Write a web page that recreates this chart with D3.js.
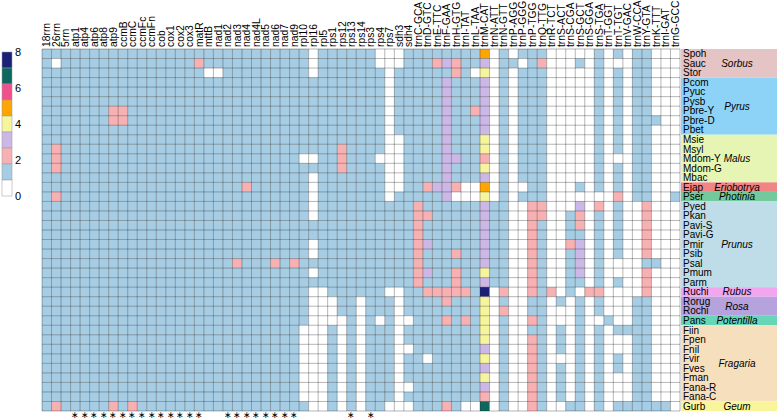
<!DOCTYPE html>
<html><head><meta charset="utf-8">
<script src="https://cdn.jsdelivr.net/npm/d3@7"></script>
<style>body{margin:0;background:#fff}svg{display:block}text{font-family:Arial,"Liberation Sans",sans-serif;fill:#000}</style>
</head><body><svg id="c" width="777" height="420"></svg>
<script>
const genes = ["18rrn","26rrn","5rrn","atp1","atp4","atp6","atp8","atp9","ccmB","ccmC","ccmFc","ccmFn","cob","cox1","cox2","cox3","matR","mttB","nad1","nad2","nad3","nad4","nad4L","nad5","nad6","nad7","nad9","rpl10","rpl16","rpl5","rps1","rps12","rps13","rps14","rps3","rps4","rps7","sdh3","sdh4","trnC-GCA","trnD-GTC","trnE-TTC","trnF-GAA","trnH-GTG","trnI-TAT","trnL-TAA","trnM-CAT","trnN-ATT","trnN-GTT","trnP-AGG","trnP-GGG","trnP-TGG","trnQ-TTG","trnR-TCT","trnS-ACT","trnS-CGA","trnS-GCT","trnS-GGA","trnS-TGA","trnT-GGT","trnT-TGT","trnV-GAC","trnW-CCA","trnY-GTA","trnK-TTT","trnI-GAT","trnG-GCC"];
const species = ["Spoh","Sauc","Stor","Pcom","Pyuc","Pysb","Pbre-Y","Pbre-D","Pbet","Msie","Msyl","Mdom-Y","Mdom-G","Mbac","Ejap","Pser","Pyed","Pkan","Pavi-S","Pavi-G","Pmir","Psib","Psal","Pmum","Parm","Ruchi","Rorug","Rochi","Pans","Fiin","Fpen","Fnil","Fvir","Fves","Fman","Fana-R","Fana-C","Gurb"];
const genera = ["Sorbus","Pyrus","Malus","Eriobotrya","Photinia","Prunus","Rubus","Rosa","Potentilla","Fragaria","Geum"];
const generaSizes = [3,6,5,1,1,9,1,2,1,8,1];
// copy numbers, one string per species, one digit per gene (in gene order)
const copies = [
"1111111111 1111111111 1111111101 1111100011 1111115010 1110000010 1011000",
"1011111111 1111112111 1111111101 1111100011 1232113011 0120001010 0011000",
"1111111111 1111111001 1111111101 1111110111 1112104010 1110000010 1011000",
"1111111111 1111111111 1111111111 1111110111 1131113010 1110000010 1011000",
"1111111111 1111111111 1111111111 1111110111 1131113010 1110000010 1011000",
"1111111111 1111111111 1111111111 1111110111 1131113010 1110000010 1011000",
"1111111221 1111111111 1111111111 1111110111 1131123010 1110000010 1011000",
"1111111221 1111111111 1111111111 1111110111 1131113010 1110000010 1011100",
"1111111111 1111111111 1111111111 1111110111 1131113010 1110000010 1011000",
"1111111111 1111111111 1111111111 1111110011 1131114010 1110000010 1011000",
"1211111111 1111111111 1111111111 1211110011 1131114010 1110000010 1011000",
"1211111111 1111111111 1111111001 1211100011 1133112010 1110000010 0011000",
"1211111111 1111111111 1111111111 1211110011 1131114010 1110000010 1011000",
"1111111111 1111111111 1111111101 1111110011 1131113010 1110000010 1011000",
"1111111111 1111111111 1211111101 1111110011 2332005010 0110001010 1011000",
"1211111111 1111111111 1111111101 1111110111 1130004010 1110000000 2011001",
"1111111111 1111111111 1111111101 1111111112 1111113110 0220003020 1002000",
"1111111111 1111111111 1111111101 1111111112 2111113110 0220012010 1002000",
"1111111111 1111111111 1111111111 1111111112 1111113110 0210012010 1002000",
"1111111111 1111111111 1111111111 1111111112 1111113110 0210011010 1002000",
"1111111111 1111111111 1111111101 1111111112 3111113110 0210023010 1002000",
"1111111111 1111111111 1111111101 1111111112 1112113110 0210013010 1002000",
"1111111111 1111111111 2111212111 1111111112 1111113110 0210013010 0001100",
"1111111111 1111111111 1111111101 1111111112 3112114110 0210013010 0002000",
"1111111111 1111111111 1111111111 1111111112 1112113110 0210011010 1002000",
"1111111111 1111111111 1111111100 1111110011 2222218020 0212010220 0002000",
"1111111111 1111111111 1111111100 0110111011 1121114010 0110101010 0011000",
"1111111111 1111111111 1111111100 0110111011 1111114020 0110001010 0011000",
"1111111111 1111111111 1111111100 0010101001 1121214010 0210001001 0011000",
"1111111111 1111111111 1111111000 1010111011 1111114010 0110101010 1111000",
"1111111111 1111111111 1111111000 1010111011 1111114010 0210101010 0011000",
"1111111111 1111111111 1111111000 1010111001 1111113010 0210101010 0011000",
"1111111111 1111111111 1111111000 1010111011 0111114010 0210001010 1011000",
"1111111111 1111111111 1111111000 1010111011 1111113010 0210101010 1011000",
"1111111111 1111111111 1111111000 1010111011 1111114010 0210101010 0011000",
"1111111111 1111111111 1111111000 1010111001 1111113010 0210101010 0011000",
"1111111111 1111111111 1111111000 1010111011 1111112010 0210101010 0011000",
"1211111212 1111111111 1111111100 1010110001 1121007010 0210011010 1111110"
];
const legendValues = [8,7,6,5,4,3,2,1,0];
const legendTicks = [0,2,4,6,8];
const starredGenes = ["atp1","atp4","atp6","atp8","atp9","ccmB","ccmC","ccmFc","ccmFn","cob","cox1","cox2","cox3","matR","nad2","nad3","nad4","nad4L","nad5","nad6","nad7","nad9","rps13","rps3"];

// styles
const palette = ["#ffffff","#a6cde4","#f8b1b3","#cbb8e6","#f6f59e","#ffa500","#f0508b","#0c675f","#1c2178"];
const genusFill = {Sorbus:"#e5c4c5",Pyrus:"#8dd3f7",Malus:"#e6f5b4",Eriobotrya:"#f08585",Photinia:"#72c99b",Prunus:"#bedde8",Rubus:"#f3a6f0",Rosa:"#b6a2dc",Potentilla:"#66d5b8",Fragaria:"#f6dfbd",Geum:"#f8f59a"};

const matrix = copies.map(s => s.replace(/ /g,"").split("").map(Number));
const cells = [];
matrix.forEach((row,i) => row.forEach((v,j) => cells.push({sp:species[i], gene:genes[j], v})));

const svg = d3.select("#c");
const x = d3.scaleBand().domain(genes).range([42,680]);
const y = d3.scaleBand().domain(species).range([49,411]);
const color = d3.scaleOrdinal().domain(d3.range(9)).range(palette);

svg.append("g").selectAll("rect").data(cells).join("rect")
  .attr("x", d => x(d.gene)).attr("y", d => y(d.sp))
  .attr("width", x.bandwidth()).attr("height", y.bandwidth())
  .attr("fill", d => color(d.v));

const grid = svg.append("g").attr("stroke","rgba(0,0,0,0.42)").attr("stroke-width",0.7);
const xb = genes.map(g => x(g)).concat([x.range()[1]]);
const yb = species.map(s => y(s)).concat([y.range()[1]]);
grid.selectAll("line.v").data(xb).join("line").attr("class","v")
  .attr("x1",d=>d).attr("x2",d=>d).attr("y1",y.range()[0]).attr("y2",y.range()[1]);
grid.selectAll("line.h").data(yb).join("line").attr("class","h")
  .attr("y1",d=>d).attr("y2",d=>d).attr("x1",x.range()[0]).attr("x2",x.range()[1]);

// column labels
svg.append("g").selectAll("text").data(genes).join("text")
  .attr("transform", d => `translate(${x(d)+x.bandwidth()/2+3.6},47) rotate(-90)`)
  .attr("font-size","10.3px").text(d => d);

// asterisks
svg.append("g").selectAll("text").data(starredGenes).join("text")
  .attr("x", d => x(d)+x.bandwidth()/2).attr("y", 417.8)
  .attr("text-anchor","middle").attr("font-size","9px").text("\u2217");

// genus blocks
let start = 0;
const blocks = genera.map((g,k) => { const b = {g, first:species[start], last:species[start+generaSizes[k]-1]}; start += generaSizes[k]; return b; });
const gb = svg.append("g");
gb.selectAll("rect").data(blocks).join("rect")
  .attr("x",681).attr("width",96)
  .attr("y", d => y(d.first)).attr("height", d => y(d.last)+y.bandwidth()-y(d.first))
  .attr("fill", d => genusFill[d.g]);
gb.selectAll("text").data(blocks).join("text")
  .attr("x",737).attr("y", d => (y(d.first)+y(d.last)+y.bandwidth())/2+3.5)
  .attr("text-anchor","middle").attr("font-style","italic").attr("font-size","10px")
  .text(d => d.g);

// species labels
svg.append("g").selectAll("text").data(species).join("text")
  .attr("x",683).attr("y", d => y(d)+y.bandwidth()/2+3.5)
  .attr("font-size","10px").text(d => d);

// legend
const ly = d3.scaleBand().domain(legendValues).range([52,196]);
const lt = d3.scaleLinear().domain([0,8]).range([196,52]);
const lg = svg.append("g");
lg.selectAll("rect").data(legendValues).join("rect")
  .attr("x",2).attr("width",10).attr("y", d => ly(d)).attr("height", ly.bandwidth())
  .attr("fill", d => color(d)).attr("stroke","#999").attr("stroke-width",0.5);
lg.selectAll("text").data(legendTicks).join("text")
  .attr("x",15).attr("y", d => lt(d)+4).attr("font-size","11px").text(d => d);
</script></body></html>
